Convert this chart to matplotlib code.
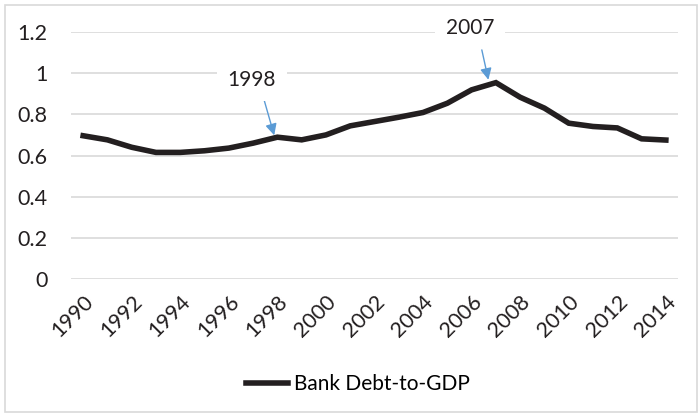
import matplotlib.pyplot as plt
from matplotlib.patches import Rectangle

plt.rcParams['font.family'] = ['Lato', 'DejaVu Sans']

years = list(range(1990, 2015))
debt_to_gdp = [0.696, 0.676, 0.640, 0.615, 0.615, 0.623, 0.636, 0.660, 0.689, 0.676,
               0.700, 0.744, 0.765, 0.786, 0.809, 0.854, 0.919, 0.954, 0.883, 0.830,
               0.757, 0.741, 0.734, 0.681, 0.675]
tick_years = list(range(1990, 2015, 2))
y_ticks = [0, 0.2, 0.4, 0.6, 0.8, 1.0, 1.2]
y_labels = ["0", "0.2", "0.4", "0.6", "0.8", "1", "1.2"]

fig = plt.figure(figsize=(6.98, 4.17), dpi=100)
ax = fig.add_axes([71 / 698, 1 - 279 / 417, (678 - 71) / 698, (279 - 32) / 417])

# light gray chart border
fig.patches.append(Rectangle((5 / 698, 5 / 417), 692 / 698, 407 / 417,
                             transform=fig.transFigure, fill=False,
                             edgecolor="#d9d9d9", linewidth=1.2))

ax.plot(years, debt_to_gdp, color="#231f20", linewidth=4, solid_joinstyle="miter",
        label="Bank Debt-to-GDP", zorder=3)

ax.set_xlim(1989.5, 2014.5)
ax.set_ylim(0, 1.2)
ax.set_yticks(y_ticks)
ax.set_yticklabels(y_labels)
ax.set_xticks(tick_years)
ax.set_xticklabels([str(y) for y in tick_years], rotation=45, ha="right",
                   rotation_mode="anchor")
ax.tick_params(axis="both", length=0, labelsize=15.5, colors="#231f20")
ax.tick_params(axis="y", pad=17)
ax.tick_params(axis="x", pad=9)
ax.grid(axis="y", color="#d9d9d9", linewidth=1.2, zorder=0)
for s in ax.spines.values():
    s.set_visible(False)

# callouts: labels with white boxes, arrows drawn separately
arrow = dict(arrowstyle="-|>", color="#5b9bd5", lw=1, mutation_scale=17,
             shrinkA=0, shrinkB=0)
ax.text(1996.95, 0.967, "1998", ha="center", va="center", fontsize=15,
        color="#231f20", zorder=4,
        bbox=dict(facecolor="white", edgecolor="none", pad=8))
ax.annotate("", xy=(1997.87, 0.698), xytext=(1997.46, 0.867), arrowprops=arrow)
ax.text(2005.94, 1.218, "2007", ha="center", va="center", fontsize=15,
        color="#231f20", zorder=4,
        bbox=dict(facecolor="white", edgecolor="none", pad=8), clip_on=False)
ax.annotate("", xy=(2006.69, 0.968), xytext=(2006.42, 1.113), arrowprops=arrow)

fig.legend(loc="center", bbox_to_anchor=(0.513, 1 - 384 / 417), frameon=False,
           fontsize=15, handlelength=2.0, handletextpad=0.3)

fig.savefig("out.png", dpi=100)
